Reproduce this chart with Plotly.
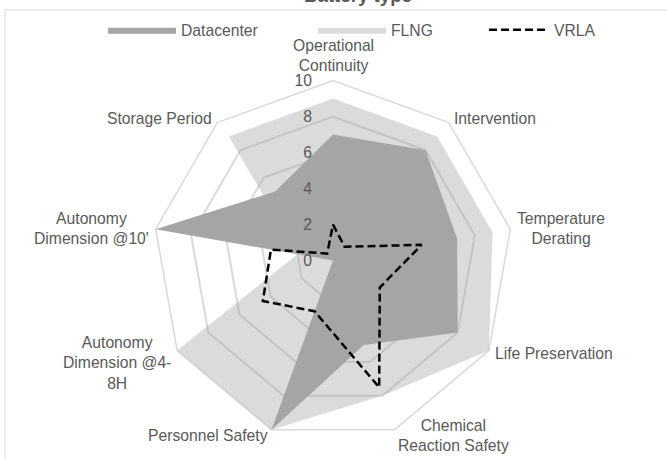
import math
import plotly.graph_objects as go

categories = [
    "Operational<br>Continuity",
    "Intervention",
    "Temperature<br>Derating",
    "Life Preservation",
    "Chemical<br>Reaction Safety",
    "Personnel Safety",
    "Autonomy<br>Dimension @4-<br>8H",
    "Autonomy<br>Dimension @10'",
    "Storage Period",
]
datacenter = [7, 8, 7, 8, 5, 10, 0, 10, 5]
flng = [9, 9, 9, 10, 8, 10, 10, 2, 9]
vrla = [2, 1, 5, 3, 7.5, 3, 4.5, 3.5, 0.5]
radial_ticks = [0, 2, 4, 6, 8, 10]

W, H = 667, 459
FONT = "Liberation Sans, Arial, sans-serif"
TXT = "#595959"
GRID = "#d9d9d9"
FS = 15.7

def closed(v):
    return list(v) + [v[0]]

theta = closed(categories)

fig = go.Figure()
fig.add_trace(go.Scatterpolar(
    r=closed(flng), theta=theta, name="FLNG", mode="lines", legend="legend2",
    fill="toself", fillcolor="rgba(165,165,165,0.4)",
    line=dict(width=0, color="rgba(165,165,165,0.4)"), subplot="polar",
))
fig.add_trace(go.Scatterpolar(
    r=closed(datacenter), theta=theta, name="Datacenter", mode="lines",
    legend="legend", fill="toself", fillcolor="#a5a5a5",
    line=dict(width=0, color="#a5a5a5"), subplot="polar",
))
# the dashed series lives on an overlaid polar so the radial labels sit on the fills
fig.add_trace(go.Scatterpolar(
    r=closed(vrla), theta=theta, name="VRLA", mode="lines", legend="legend3",
    line=dict(color="#000000", width=2.5, dash="8px,4px"), subplot="polar2",
))

cx, cy, rad = 333, 260.5, 180
rmax = 10
domain = dict(x=[(cx - rad) / W, (cx + rad) / W],
              y=[1 - (cy + rad) / H, 1 - (cy - rad) / H])


def legend_at(x_px, item_w):
    return dict(
        orientation="h", x=x_px / W, xanchor="left", y=1 - 13 / H,
        yanchor="top", font=dict(size=FS, color=TXT), itemwidth=item_w,
        bgcolor="rgba(0,0,0,0)",
    )


# category labels sit just outside the outer ring, centred per line
label_annotations = []
n = len(categories)
for i, name in enumerate(categories):
    ang = math.radians(90 - 360 * i / n)
    dx, dy = math.cos(ang), math.sin(ang)
    dist = rad + 6
    x = cx + dist * dx
    y = cy - dist * dy
    xa = "left" if dx > 0.1 else ("right" if dx < -0.1 else "center")
    ya = "bottom" if dy > 0.97 else ("top" if dy < -0.97 else "middle")
    n_lines = name.count("<br>") + 1
    if n_lines > 2 and dy < 0:
        y += 9 * (n_lines - 2)
    label_annotations.append(dict(
        text=name, xref="paper", yref="paper", x=x / W, y=1 - y / H,
        xanchor=xa, yanchor=ya, align="center", showarrow=False,
        font=dict(size=FS, color=TXT), borderpad=0,
    ))

angular_common = dict(rotation=90, direction="clockwise", showgrid=False,
                      ticks="", showticklabels=False)

fig.update_layout(
    width=W, height=H, autosize=False,
    margin=dict(l=0, r=0, t=0, b=0),
    paper_bgcolor="white", plot_bgcolor="white",
    font=dict(family=FONT, color=TXT, size=FS),
    showlegend=True,
    legend=legend_at(103, 68),
    legend2=legend_at(313, 68),
    legend3=legend_at(484, 60),
    polar=dict(
        domain=domain, bgcolor="rgba(0,0,0,0)", gridshape="linear",
        radialaxis=dict(
            range=[0, rmax], tickvals=radial_ticks, angle=90,
            showticklabels=False, showline=False, ticks="",
            gridcolor=GRID, gridwidth=1.5, layer="below traces",
        ),
        angularaxis=dict(showline=True, linecolor=GRID, linewidth=1.5,
                         layer="below traces", **angular_common),
    ),
    polar2=dict(
        domain=domain, bgcolor="rgba(0,0,0,0)", gridshape="linear",
        radialaxis=dict(
            range=[0, rmax], tickvals=radial_ticks, angle=90, tickangle=90,
            side="counterclockwise", showline=False, showgrid=False,
            ticks="outside", ticklen=15, tickcolor="rgba(0,0,0,0)",
            layer="below traces", tickfont=dict(size=FS, color=TXT),
        ),
        angularaxis=dict(showline=False, **angular_common),
    ),
    shapes=[dict(
        type="rect", xref="paper", yref="paper",
        x0=5 / W, x1=1.1, y0=-0.05, y1=1 - 10 / H,
        line=dict(color=GRID, width=1), fillcolor="rgba(0,0,0,0)",
        layer="below",
    )],
    annotations=[dict(
        text="<b>Battery type</b>", xref="paper", yref="paper",
        x=358 / W, y=1 - 8 / H, xanchor="center", yanchor="bottom",
        showarrow=False, font=dict(size=18.7, color=TXT),
    )] + label_annotations,
)

fig.write_html("out.html")
